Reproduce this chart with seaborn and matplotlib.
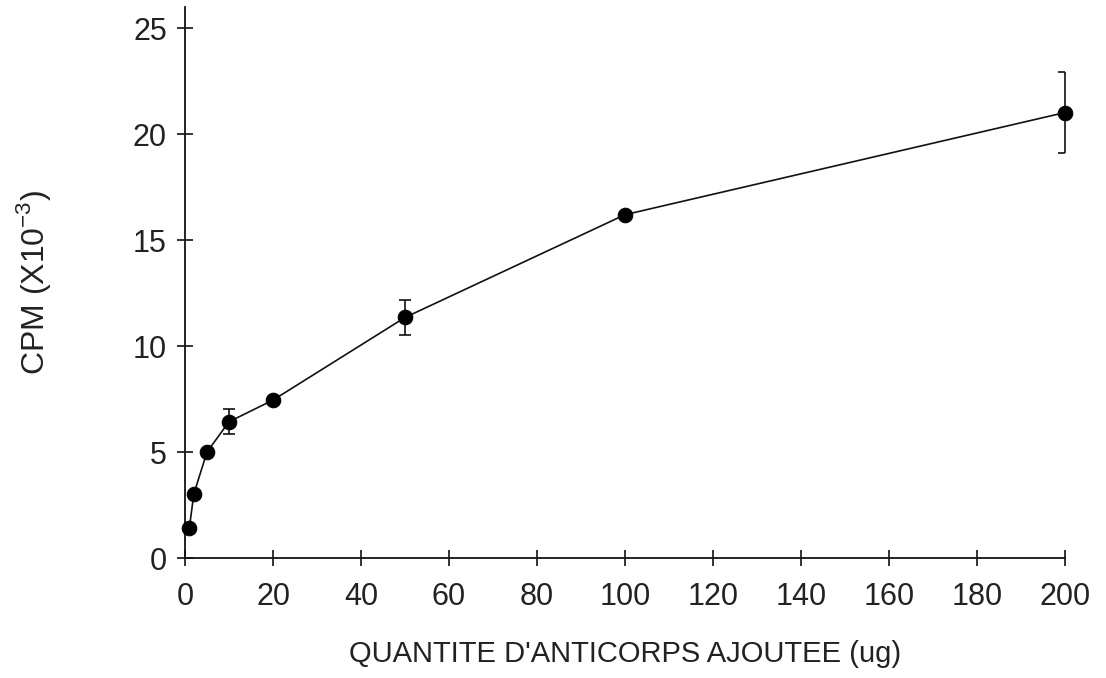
import matplotlib
matplotlib.use("Agg")
import matplotlib.pyplot as plt
import seaborn as sns
import pandas as pd

quantite = [1, 2, 5, 10, 20, 50, 100, 200]
cpm = [1.43, 3.02, 5.0, 6.43, 7.45, 11.35, 16.2, 21.02]
err_x = [10, 50, 200]
err_y = [6.43, 11.35, 21.02]
err_val = [0.6, 0.81, 1.93]
xticks = [0, 20, 40, 60, 80, 100, 120, 140, 160, 180, 200]
yticks = [0, 5, 10, 15, 20, 25]

sns.set_theme(style="white")
plt.rcParams['font.family'] = ['Liberation Sans', 'DejaVu Sans']
plt.rcParams['mathtext.fontset'] = 'custom'
plt.rcParams['mathtext.rm'] = 'Liberation Sans'

df = pd.DataFrame({"q": quantite, "cpm": cpm})

fig = plt.figure(figsize=(11.06, 6.78), dpi=100)
ax = fig.add_axes([185/1106, 1-558/678, 880/1106, 551/678])

sns.lineplot(data=df, x="q", y="cpm", ax=ax, color="#111111", linewidth=1.2,
             marker="o", markersize=10.5, markeredgecolor="black",
             markerfacecolor="black", clip_on=False, zorder=3)
# error bars: the ones inside the plot get normal caps
ax.errorbar(err_x[:-1], err_y[:-1], yerr=err_val[:-1], fmt="none", ecolor="#111111",
            elinewidth=1.2, capsize=4, capthick=1.2, zorder=2)
# the last one sits on the axis end, with bracket-like caps to the left only
ax.errorbar(err_x[-1:], err_y[-1:], yerr=err_val[-1:], fmt="none", ecolor="#111111",
            elinewidth=1.2, capsize=0, zorder=2, clip_on=False)
ax.hlines([err_y[-1] - err_val[-1], err_y[-1] + err_val[-1]],
          err_x[-1] - 1.5, err_x[-1], color="#111111", linewidth=1.2, clip_on=False)

ax.set_xlim(0, 200)
ax.set_ylim(0, 26.0)
ax.set_xticks(xticks)
ax.set_yticks(yticks)
ax.set_xticklabels([str(t) for t in xticks], fontsize=22)
ax.set_yticklabels([str(t) for t in yticks], fontsize=22)
ax.tick_params(axis="both", direction="inout", length=12, width=1.2, color="#111111",
               labelcolor="#222222", bottom=True, left=True)
ax.tick_params(axis="x", pad=11)
ax.tick_params(axis="y", pad=7)
for s in ["top", "right"]:
    ax.spines[s].set_visible(False)
for s in ["left", "bottom"]:
    ax.spines[s].set_color("#111111")
    ax.spines[s].set_linewidth(1.3)

ax.set_xlabel("QUANTITE D'ANTICORPS AJOUTEE (ug)", fontsize=21, color="#222222")
ax.set_ylabel("CPM (X10$^{\\mathregular{-3}}$)", fontsize=23, color="#222222")
ax.xaxis.set_label_coords(0.5, -0.148)
ax.yaxis.set_label_coords(-0.15, 0.5)

fig.savefig("out.png", dpi=100)
